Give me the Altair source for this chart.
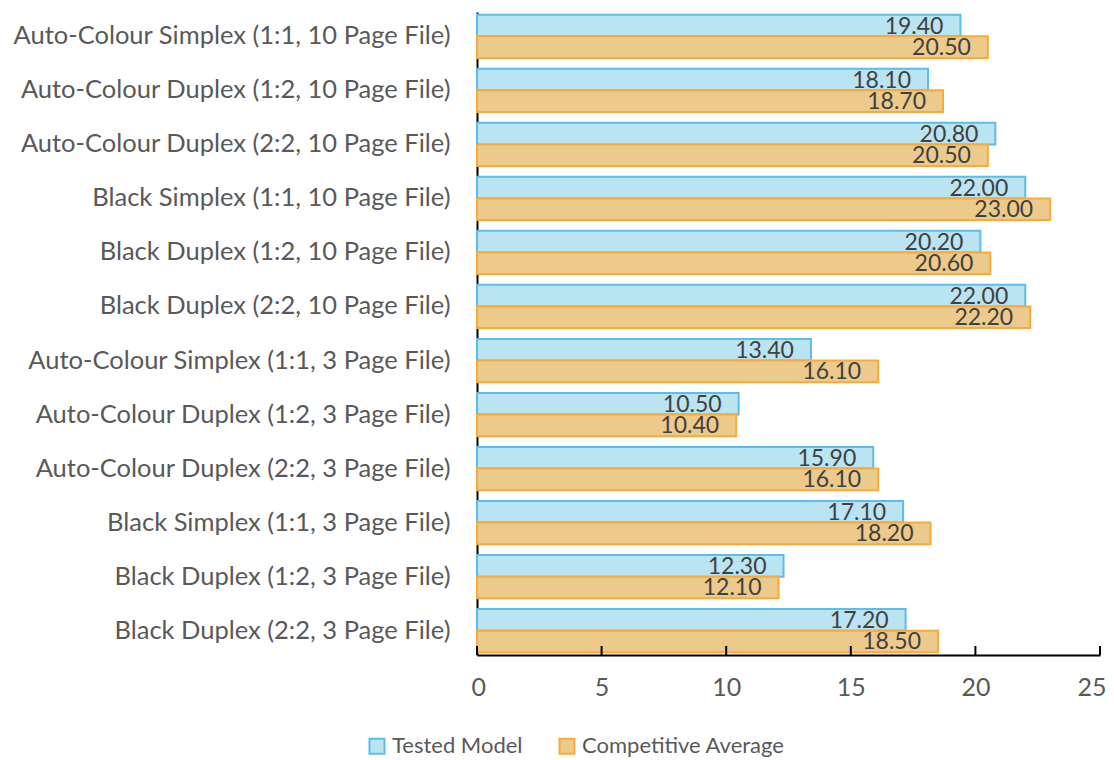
import altair as alt
import pandas as pd

categories = [
    "Auto-Colour Simplex (1:1, 10 Page File)",
    "Auto-Colour Duplex (1:2, 10 Page File)",
    "Auto-Colour Duplex (2:2, 10 Page File)",
    "Black Simplex (1:1, 10 Page File)",
    "Black Duplex (1:2, 10 Page File)",
    "Black Duplex (2:2, 10 Page File)",
    "Auto-Colour Simplex (1:1, 3 Page File)",
    "Auto-Colour Duplex (1:2, 3 Page File)",
    "Auto-Colour Duplex (2:2, 3 Page File)",
    "Black Simplex (1:1, 3 Page File)",
    "Black Duplex (1:2, 3 Page File)",
    "Black Duplex (2:2, 3 Page File)",
]
series = ["Tested Model", "Competitive Average"]
tested = [19.40, 18.10, 20.80, 22.00, 20.20, 22.00, 13.40, 10.50, 15.90, 17.10, 12.30, 17.20]
competitive = [20.50, 18.70, 20.50, 23.00, 20.60, 22.20, 16.10, 10.40, 16.10, 18.20, 12.10, 18.50]
x_ticks = [0, 5, 10, 15, 20, 25]

rows = []
for c, t, v in zip(categories, tested, competitive):
    rows.append({"category": c, "series": series[0], "value": t})
    rows.append({"category": c, "series": series[1], "value": v})
df = pd.DataFrame(rows)
ticks_df = pd.DataFrame({"tick": x_ticks})

FONT = "Lato"
W, H = 623, 643

y_enc = alt.Y("category:N", sort=categories,
              scale=alt.Scale(paddingInner=0.2, paddingOuter=0.05),
              axis=alt.Axis(title=None, ticks=False, domainColor="black", domainWidth=2,
                            labelFontSize=25.5, labelColor="#595959", labelFont=FONT,
                            labelPadding=27, labelLimit=0))
yoff = alt.YOffset("series:N", sort=series, scale=alt.Scale(paddingInner=0, paddingOuter=0))
x_enc = alt.X("value:Q", scale=alt.Scale(domain=[0, 25], nice=False),
              axis=alt.Axis(title=None, values=x_ticks, ticks=False, grid=False,
                            domainColor="black", domainWidth=2,
                            labelFlush=True, labelFlushOffset=6,
                            labelFontSize=25, labelColor="#595959", labelFont=FONT,
                            labelPadding=20))

legend_kw = dict(title=None, orient="none", legendX=-111, legendY=723,
                 direction="horizontal", labelFontSize=22, labelLimit=0,
                 labelColor="#595959", labelFont=FONT,
                 symbolType="square", symbolSize=225,
                 symbolStrokeWidth=2, columnPadding=32, labelOffset=4)

bars = alt.Chart(df).mark_bar(strokeWidth=2).encode(
    y=y_enc, yOffset=yoff, x=x_enc,
    fill=alt.Fill("series:N", sort=series,
                  scale=alt.Scale(domain=series, range=["#BAE4F2", "#ECCA8B"]),
                  legend=alt.Legend(**legend_kw)),
    stroke=alt.Stroke("series:N", sort=series,
                      scale=alt.Scale(domain=series, range=["#5DBCEA", "#F7AB3A"]),
                      legend=alt.Legend(**legend_kw)),
)

labels = alt.Chart(df).mark_text(align="right", baseline="middle", dx=-17, dy=1,
                                 fontSize=23, font=FONT, color="#404040").encode(
    y=alt.Y("category:N", sort=categories), yOffset=alt.YOffset("series:N", sort=series),
    x="value:Q",
    text=alt.Text("value:Q", format=".2f"),
)

tick_marks = alt.Chart(ticks_df).mark_rule(color="black", strokeWidth=2).encode(
    x=alt.X("tick:Q"), y=alt.value(H), y2=alt.value(H - 9)
)

chart = alt.layer(bars, labels, tick_marks).properties(
    width=W, height=H,
    autosize=alt.AutoSizeParams(type="none"),
    padding={"left": 469, "top": 4, "right": 6, "bottom": 110},
).configure(background="white").configure_view(stroke=None)

chart.save("out.html", embed_options={"renderer": "svg", "actions": False})
